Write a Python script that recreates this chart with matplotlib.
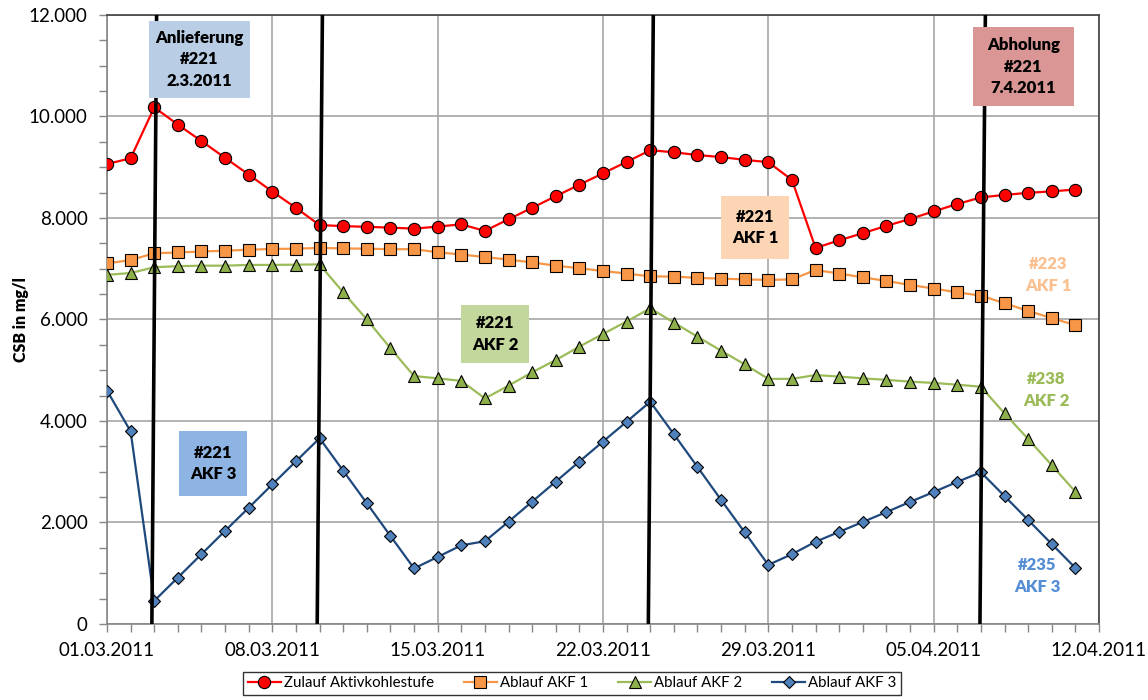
import numpy as np
import matplotlib.pyplot as plt
import matplotlib.dates as mdates
from matplotlib.ticker import FuncFormatter, MultipleLocator
from datetime import date, timedelta

plt.rcParams['font.family'] = ['Lato', 'DejaVu Sans']

# daily samples 01.03.2011 .. 11.04.2011
start = date(2011, 3, 1)
days = [start + timedelta(days=i) for i in range(42)]

zulauf = [9065, 9175, 10180, 9840, 9515, 9185, 8855, 8520, 8200, 7860,
          7840, 7825, 7810, 7790, 7830, 7875, 7745, 7975, 8200, 8430,
          8655, 8880, 9105, 9335, 9295, 9240, 9200, 9145, 9100, 8750,
          7410, 7560, 7700, 7845, 7980, 8130, 8275, 8405, 8455, 8495,
          8525, 8560]
akf1 = [7105, 7170, 7305, 7320, 7340, 7355, 7375, 7390, 7395, 7410,
        7400, 7395, 7385, 7385, 7325, 7280, 7230, 7180, 7125, 7060,
        7010, 6955, 6905, 6850, 6845, 6820, 6805, 6790, 6780, 6790,
        6975, 6905, 6830, 6760, 6680, 6610, 6535, 6470, 6320, 6170,
        6025, 5890]
akf2 = [6880, 6915, 7030, 7050, 7060, 7060, 7075, 7075, 7080, 7085,
        6535, 6000, 5435, 4885, 4840, 4790, 4445, 4695, 4960, 5200,
        5465, 5715, 5960, 6220, 5940, 5660, 5385, 5115, 4830, 4830,
        4905, 4875, 4840, 4810, 4775, 4750, 4715, 4675, 4150, 3645,
        3130, 2605]
akf3 = [4600, 3795, 455, 915, 1375, 1835, 2290, 2750, 3205, 3660,
        3020, 2380, 1735, 1095, 1320, 1550, 1630, 2015, 2410, 2805,
        3200, 3595, 3985, 4380, 3740, 3095, 2445, 1805, 1165, 1375,
        1620, 1815, 2010, 2205, 2405, 2600, 2800, 2990, 2520, 2050,
        1575, 1105]

series = [
    ('Zulauf Aktivkohlestufe', zulauf, '#FF0000', 'o', '#FF0000', 8.8),
    ('Ablauf AKF 1', akf1, '#F79646', 's', '#F79646', 8.0),
    ('Ablauf AKF 2', akf2, '#9BBB59', '^', '#8DB04A', 8.5),
    ('Ablauf AKF 3', akf3, '#1F497D', 'D', '#4F81BD', 6.2),
]

# filter change events: (top, bottom) offsets in days from 01.03.
events = [(2.10, 1.90), (9.12, 8.90), (23.13, 22.92), (37.19, 36.96)]

fig = plt.figure(figsize=(11.48, 7.0), dpi=100)
ax = fig.add_axes([0.0932, 0.1086, 0.8641, 0.87])

x = mdates.date2num(days)
for label, vals, lc, mk, fc, ms in series:
    ax.plot(x, vals, color=lc, lw=1.6, marker=mk, markersize=ms,
            markerfacecolor=fc, markeredgecolor='black', markeredgewidth=0.8,
            label=label, zorder=3)

x0 = mdates.date2num(start)
for top, bot in events:
    ax.plot([x0 + top, x0 + bot], [12000, 0], color='black', lw=2.6,
            zorder=4, solid_capstyle='butt')

ax.set_xlim(x0, x0 + 42)
ax.set_ylim(0, 12000)
ax.set_xticks(x0 + np.arange(0, 43, 7))
ax.xaxis.set_major_formatter(mdates.DateFormatter('%d.%m.%Y'))
ax.xaxis.set_minor_locator(MultipleLocator(1))
ax.yaxis.set_major_locator(MultipleLocator(2000))
ax.yaxis.set_minor_locator(MultipleLocator(500))
ax.yaxis.set_major_formatter(FuncFormatter(lambda v, p: f'{int(v):,}'.replace(',', '.')))

ax.grid(True, which='major', color='#A6A6A6', lw=1.2, zorder=0)
ax.tick_params(which='both', direction='out', color='#868686', labelsize=13.5,
               labelcolor='black', length=6, width=1)
ax.tick_params(axis='y', pad=8)
ax.tick_params(axis='x', pad=7)
for side in ['left', 'bottom']:
    ax.spines[side].set_color('#868686')
for side in ['top', 'right']:
    ax.spines[side].set_color('#404040')
for s in ax.spines.values():
    s.set_linewidth(1.2)

W, H = 1148, 700
fig.text(21 / W, 1 - 320 / H, 'CSB in mg/l', rotation=90, ha='center',
         va='center', fontsize=11.5, fontweight='heavy')

# annotation boxes, placed in figure pixel coordinates
def box(x1, y1, x2, y2, color, text):
    fig.patches.append(plt.Rectangle((x1 / W, 1 - y2 / H), (x2 - x1) / W,
                                     (y2 - y1) / H, transform=fig.transFigure,
                                     facecolor=color, edgecolor='none', zorder=5))
    fig.text((x1 + x2) / 2 / W, 1 - (y1 + y2) / 2 / H, text, ha='center',
             va='center', fontsize=12, fontweight='heavy', linespacing=1.45,
             zorder=6)

box(149, 21, 250, 98, '#B9CDE5', 'Anlieferung\n#221\n2.3.2011')
box(973, 27, 1074, 106, '#D99694', 'Abholung\n#221\n7.4.2011')
box(721, 196, 789, 259, '#FCD5B5', '#221\nAKF 1')
box(461, 305, 529, 363, '#C3D69B', '#221\nAKF 2')
box(179, 431, 247, 496, '#8EB4E3', '#221\nAKF 3')

for cx, cy, color, text in [(1048, 275, '#FAC090', '#223\nAKF 1'),
                            (1046, 390, '#9BBB59', '#238\nAKF 2'),
                            (1037, 576, '#558ED5', '#235\nAKF 3')]:
    fig.text(cx / W, 1 - cy / H, text, ha='center', va='center', fontsize=12,
             fontweight='heavy', color=color, linespacing=1.45)

leg = fig.legend(loc='center', bbox_to_anchor=(0.4985, 0.0236), ncol=4,
                 fontsize=10.8, frameon=True, fancybox=False, edgecolor='black',
                 handlelength=2.2, handletextpad=0.2, columnspacing=2.0,
                 borderpad=0.3)
leg.get_frame().set_linewidth(1.0)

fig.savefig('out.png', dpi=100)
